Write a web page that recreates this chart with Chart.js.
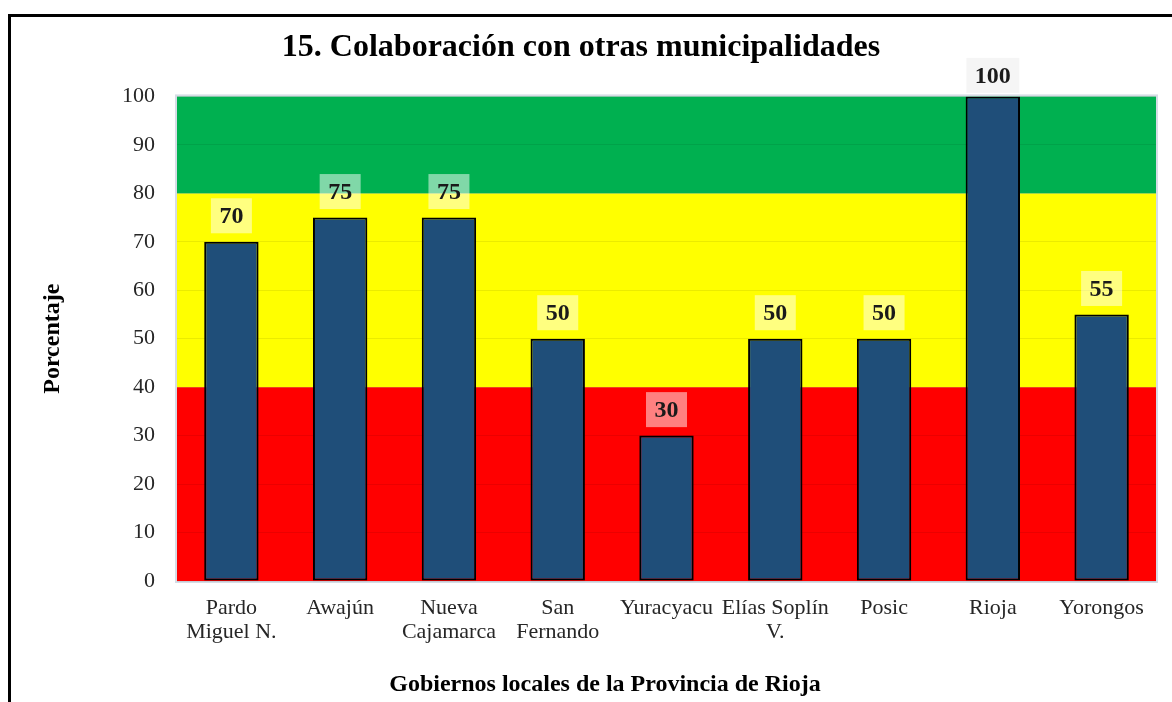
<!DOCTYPE html>
<html>
<head>
<meta charset="utf-8">
<script src="https://cdn.jsdelivr.net/npm/chart.js@4/dist/chart.umd.min.js"></script>
<style>
  html, body { margin: 0; padding: 0; background: #fff; overflow: hidden; }
  #frame {
    position: absolute; left: 8px; top: 14px; width: 1300px; height: 800px;
    border-left: 3px solid #000; border-top: 3px solid #000;
  }
  #wrap { position: absolute; left: 0; top: 0; width: 1172px; height: 702px; }
</style>
</head>
<body>
<div id="frame"></div>
<div id="wrap"><canvas id="chart" width="1172" height="702"></canvas></div>
<script>
const categories = [
  ['Pardo', 'Miguel N.'], 'Awajún', ['Nueva', 'Cajamarca'], ['San', 'Fernando'],
  'Yuracyacu', ['Elías Soplín', 'V.'], 'Posic', 'Rioja', 'Yorongos'
];
const values = [70, 75, 75, 50, 30, 50, 50, 100, 55];
// semáforo: rojo 0-40, amarillo 40-80, verde 80-100
const bandLimits = [0, 40, 80, 100];
const bandColors = ['#FF0000', '#FFFF00', '#00B050'];
const xTitle = 'Gobiernos locales de la Provincia de Rioja';

const serif = '"Liberation Serif", "Times New Roman", serif';

// colored background bands behind the grid
const bandsPlugin = {
  id: 'bands',
  beforeDraw(chart) {
    const { ctx, chartArea, scales: { y } } = chart;
    ctx.save();
    for (let i = 0; i < bandColors.length; i++) {
      const top = y.getPixelForValue(bandLimits[i + 1]);
      const bottom = y.getPixelForValue(bandLimits[i]);
      ctx.fillStyle = bandColors[i];
      ctx.fillRect(chartArea.left, top, chartArea.right - chartArea.left, bottom - top);
    }
    ctx.strokeStyle = '#D6DCE5';
    ctx.lineWidth = 2;
    ctx.strokeRect(chartArea.left - 1, chartArea.top - 1,
      chartArea.right - chartArea.left + 2, chartArea.bottom - chartArea.top + 2);
    ctx.restore();
  }
};

// value labels with a light box behind them, plus the x axis title
const labelsPlugin = {
  id: 'valueLabels',
  afterDatasetsDraw(chart) {
    const { ctx, chartArea } = chart;
    const meta = chart.getDatasetMeta(0);
    ctx.save();
    ctx.font = 'bold 24px ' + serif;
    ctx.textAlign = 'center';
    ctx.textBaseline = 'middle';
    meta.data.forEach((bar, i) => {
      const text = String(values[i]);
      const w = ctx.measureText(text).width + 17;
      const h = 35;
      const cy = Math.max(bar.y - 26, chartArea.top - 21);
      ctx.fillStyle = values[i] >= 100 ? 'rgba(238,238,238,0.6)' : 'rgba(255,255,255,0.5)';
      ctx.fillRect(bar.x - w / 2, cy - h / 2, w, h);
      ctx.fillStyle = '#1a1a1a';
      ctx.fillText(text, bar.x, cy + 1);
    });

    ctx.font = 'bold 24px ' + serif;
    ctx.fillStyle = '#000';
    ctx.fillText(xTitle, 605, 685);
    ctx.restore();
  }
};

new Chart(document.getElementById('chart').getContext('2d'), {
  type: 'bar',
  data: {
    labels: categories,
    datasets: [{
      label: 'Porcentaje',
      data: values,
      backgroundColor: '#1F4E79',
      borderColor: '#000000',
      borderWidth: 2,
      borderSkipped: false,
      barPercentage: 0.5,
      categoryPercentage: 1.0
    }]
  },
  options: {
    responsive: false,
    animation: false,
    layout: { padding: { left: 6, right: 16, top: 0, bottom: 6 } },
    plugins: {
      legend: { display: false },
      tooltip: { enabled: false },
      title: {
        display: true,
        text: '15. Colaboración con otras municipalidades',
        color: '#000',
        font: { family: serif, size: 32, weight: 'bold' },
        padding: { top: 29, bottom: 29 }
      }
    },
    scales: {
      x: {
        grid: { display: false, drawTicks: false },
        border: { display: false },
        ticks: {
          color: '#262626',
          font: { family: serif, size: 22, lineHeight: 1.1 },
          padding: 15,
          maxRotation: 0,
          autoSkip: false
        },
        afterFit(scale) { scale.height = 115; }
      },
      y: {
        min: 0,
        max: 100,
        ticks: {
          stepSize: 10,
          color: '#262626',
          font: { family: serif, size: 22 },
          padding: 22
        },
        grid: { color: 'rgba(0,0,0,0.08)', drawTicks: false },
        border: { display: false },
        title: {
          display: true,
          text: 'Porcentaje',
          color: '#000',
          font: { family: serif, size: 24, weight: 'bold' },
          padding: { top: 32, bottom: 0 }
        },
        afterFit(scale) { scale.width = 171; }
      }
    }
  },
  plugins: [bandsPlugin, labelsPlugin]
});
</script>
</body>
</html>
